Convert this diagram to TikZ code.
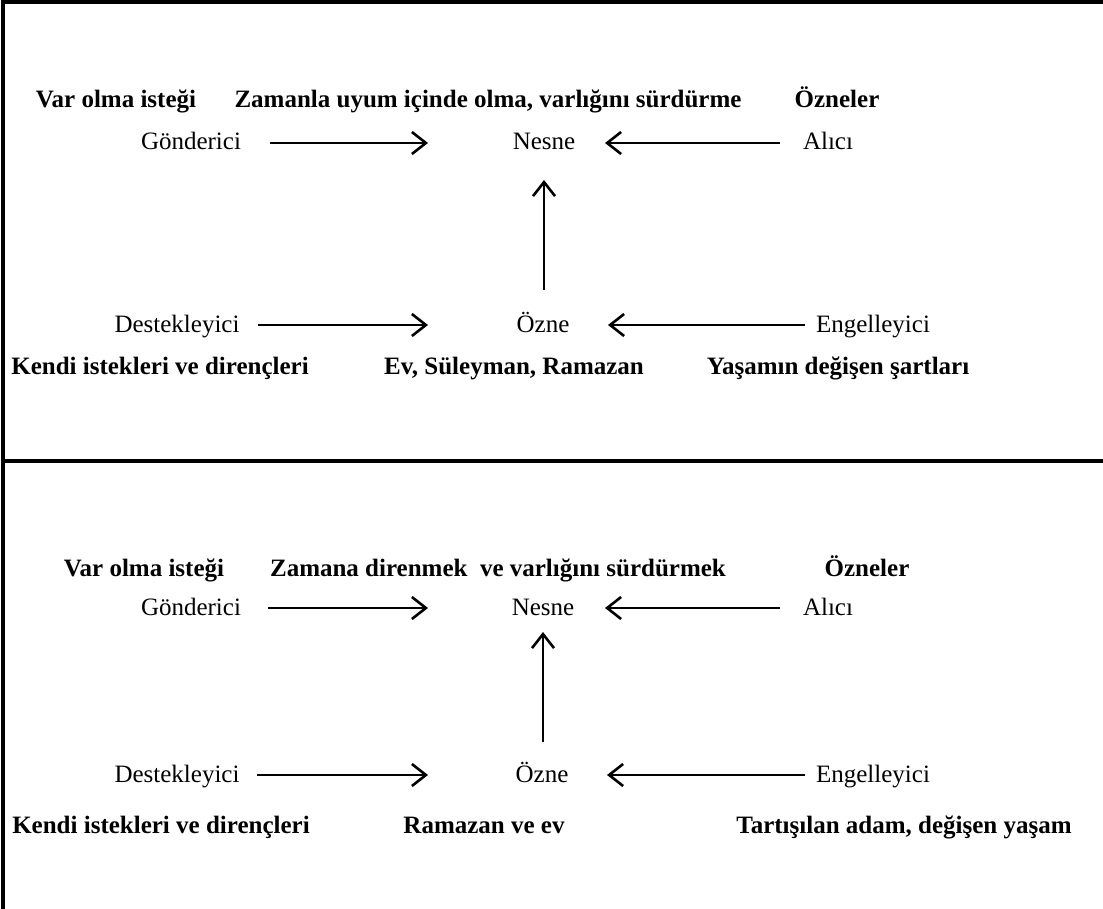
\documentclass[tikz,border=0pt]{standalone}
\usepackage{fontspec}
\setmainfont{Liberation Serif}
\newfontfamily\libser{Liberation Serif}
\usetikzlibrary{arrows.meta}
\begin{document}
\begin{tikzpicture}[x=0.5pt,y=-0.5pt,
  lbl/.style={inner sep=0pt,anchor=base,font=\libser\fontsize{12.5}{15}\selectfont},
  blbl/.style={inner sep=0pt,anchor=base,font=\libser\fontsize{12.5}{15}\selectfont\bfseries},
  arr/.style={line width=1.3pt,-{Straight Barb[length=7pt,width=11pt,line width=1.3pt]}},
  frame/.style={line width=1.6pt}]
\useasboundingbox (0,0) rectangle (1103,909);
% frame
\coordinate (tl) at (3,2);
\coordinate (tr) at (1103,2);
\coordinate (bl) at (3,909);
\coordinate (ml) at (3,461);
\coordinate (mr) at (1103,461);
\draw[frame] (tr) -- (tl) -- (bl);
\draw[frame] (ml) -- (mr);

% ===== top section =====
\node[blbl] (a1) at (116,108) {Var olma isteği};
\node[blbl] (a2) at (488,108) {Zamanla uyum içinde olma, varlığını sürdürme};
\node[blbl] (a3) at (837,108) {Özneler};
\node[lbl] (gond1) at (191,150) {Gönderici};
\node[lbl] (nesne1) at (544,150) {Nesne};
\node[lbl] (alici1) at (828,150) {Alıcı};
\node[lbl] (dest1) at (177,332) {Destekleyici};
\node[lbl] (ozne1) at (543,332) {Özne};
\node[lbl] (eng1) at (873,332) {Engelleyici};
\node[blbl] (b1) at (160,374) {Kendi istekleri ve dirençleri};
\node[blbl] (b2) at (514,374) {Ev, Süleyman, Ramazan};
\node[blbl] (b3) at (838,374) {Yaşamın değişen şartları};

\coordinate (g1e) at (270,143);
\coordinate (n1w) at (428,143);
\coordinate (a1w) at (780,143);
\coordinate (n1e) at (605,143);
\coordinate (o1n) at (544,290);
\coordinate (n1s) at (544,180);
\coordinate (d1e) at (258,325);
\coordinate (o1w) at (428,325);
\coordinate (e1w) at (805,325);
\coordinate (o1e) at (608,325);
\draw[arr] (g1e) -- (n1w);
\draw[arr] (a1w) -- (n1e);
\draw[arr] (o1n) -- (n1s);
\draw[arr] (d1e) -- (o1w);
\draw[arr] (e1w) -- (o1e);

% ===== bottom section =====
\node[blbl] (c1) at (144,576) {Var olma isteği};
\node[blbl] (c2) at (498,576) {Zamana direnmek\ \ ve varlığını sürdürmek};
\node[blbl] (c3) at (867,576) {Özneler};
\node[lbl] (gond2) at (191,615) {Gönderici};
\node[lbl] (nesne2) at (543,615) {Nesne};
\node[lbl] (alici2) at (828,615) {Alıcı};
\node[lbl] (dest2) at (177,782) {Destekleyici};
\node[lbl] (ozne2) at (542,782) {Özne};
\node[lbl] (eng2) at (873,782) {Engelleyici};
\node[blbl] (d1) at (161,833) {Kendi istekleri ve dirençleri};
\node[blbl] (d2) at (484,833) {Ramazan ve ev};
\node[blbl] (d3) at (904,833) {Tartışılan adam, değişen yaşam};

\coordinate (g2e) at (268,608);
\coordinate (n2w) at (428,608);
\coordinate (a2w) at (780,608);
\coordinate (n2e) at (605,608);
\coordinate (o2n) at (543,742);
\coordinate (n2s) at (543,632);
\coordinate (d2e) at (257,775);
\coordinate (o2w) at (428,775);
\coordinate (e2w) at (805,775);
\coordinate (o2e) at (607,775);
\draw[arr] (g2e) -- (n2w);
\draw[arr] (a2w) -- (n2e);
\draw[arr] (o2n) -- (n2s);
\draw[arr] (d2e) -- (o2w);
\draw[arr] (e2w) -- (o2e);
\end{tikzpicture}
\end{document}
